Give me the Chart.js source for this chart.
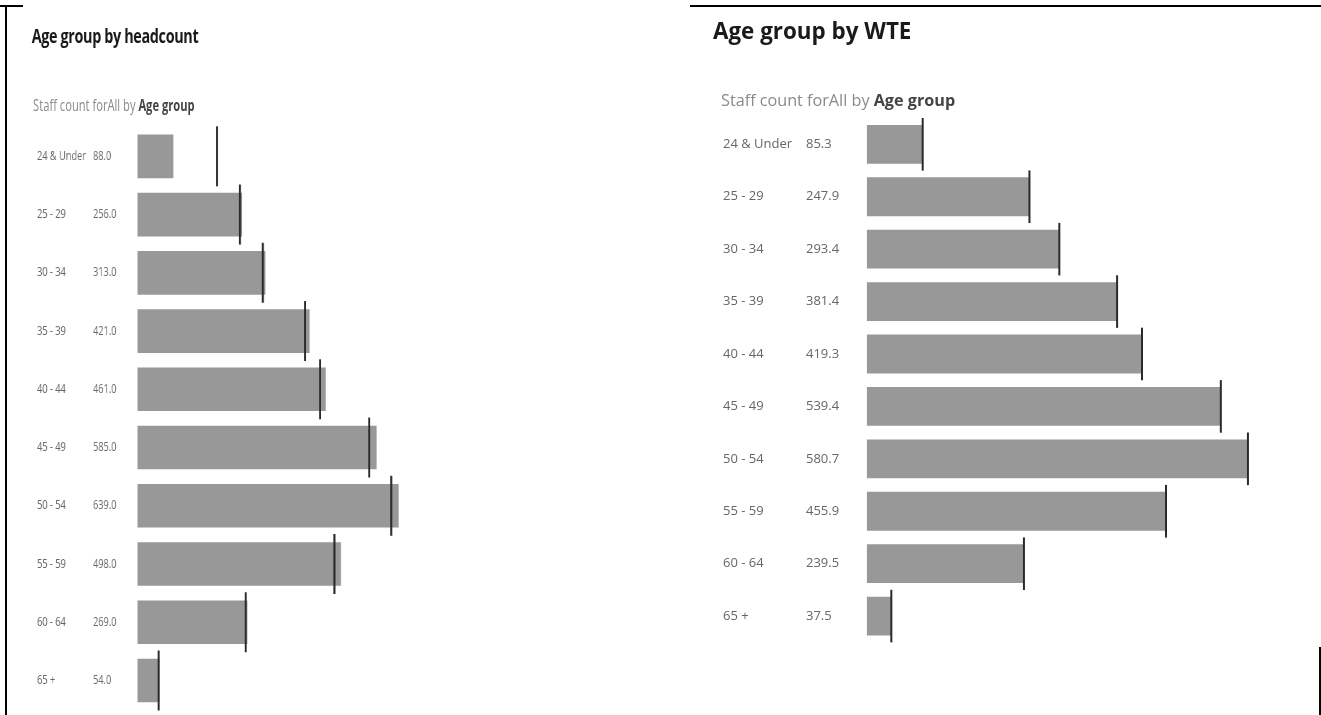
<!DOCTYPE html>
<html>
<head>
<meta charset="utf-8">
<script src="https://cdn.jsdelivr.net/npm/chart.js@4"></script>
<style>
    body { margin: 0; width: 1321px; height: 715px; overflow: hidden; position: relative; background: #fff; font-family: 'Open Sans', sans-serif; }
    .linea { position: absolute; background: #000; }
    /* panel izquierdo: texto y barras mas estrechos */
    #panelIzq { position: absolute; left: 0; top: 0; width: 944px; height: 715px; transform: scaleX(0.72); transform-origin: 0 0; }
    #panelDer { position: absolute; left: 0; top: 0; width: 1321px; height: 715px; }
    .titulo { position: absolute; font-weight: 700; color: #1a1a1a; line-height: 1; white-space: nowrap; }
    .subtitulo { position: absolute; color: #8a8a8a; line-height: 1; white-space: nowrap; }
    .subtitulo b { color: #444; }
    canvas { position: absolute; }
</style>
</head>
<body>
<div class="linea" style="left:0;top:5px;width:23px;height:2px"></div>
<div class="linea" style="left:5px;top:5px;width:2px;height:710px"></div>
<div class="linea" style="left:690px;top:5px;width:631px;height:2px"></div>
<div class="linea" style="left:1319px;top:647px;width:2px;height:68px"></div>

<div id="panelIzq">
    <div class="titulo" style="left:44px;top:26px;font-size:20px;letter-spacing:-0.5px">Age group by headcount</div>
    <div class="subtitulo" style="left:46px;top:98px;font-size:15.5px">Staff count forAll by <b>Age group</b></div>
    <canvas id="headcount" width="600" height="605" style="left:0;top:110px"></canvas>
</div>

<div id="panelDer">
    <div class="titulo" style="left:713px;top:20px;font-size:22.4px">Age group by WTE</div>
    <div class="subtitulo" style="left:721px;top:92px;font-size:16.2px">Staff count forAll by <b>Age group</b></div>
    <canvas id="wte" width="610" height="560" style="left:700px;top:100px"></canvas>
</div>

<script>
const grupos = ['24 & Under', '25 - 29', '30 - 34', '35 - 39', '40 - 44', '45 - 49', '50 - 54', '55 - 59', '60 - 64', '65 +'];
const headcount = [88, 256, 313, 421, 461, 585, 639, 498, 269, 54];
const headcountRef = [195, 251, 307, 410, 447, 567, 621, 482, 265, 52];
const wte = [85.3, 247.9, 293.4, 381.4, 419.3, 539.4, 580.7, 455.9, 239.5, 37.5];

const GRIS = '#989898';
const NEGRO = '#2a2a2a';

// columna con el valor de cada barra, entre la etiqueta y la barra
const columnaValores = {
    id: 'columnaValores',
    afterDraw(chart, args, opts) {
        const c = chart.ctx;
        const y = chart.scales.y;
        const valores = chart.data.datasets[0].data;
        c.save();
        c.font = opts.size + 'px "Open Sans"';
        c.fillStyle = '#666';
        c.textAlign = 'left';
        c.textBaseline = 'middle';
        valores.forEach((v, i) => c.fillText(v.toFixed(1), opts.x, y.getPixelForValue(i)));
        c.restore();
    }
};

function crearGrafica(id, valores, refs, op) {
    const ctx = document.getElementById(id).getContext('2d');
    const config = {
        type: 'bar',
        data: {
            labels: grupos,
            datasets: [
                {
                    data: valores,
                    backgroundColor: GRIS,
                    barPercentage: op.barra,
                    categoryPercentage: 1,
                    order: 2
                },
                {
                    type: 'line',
                    indexAxis: 'y',
                    data: refs,
                    showLine: false,
                    pointStyle: 'line',
                    pointRotation: 90,
                    pointRadius: op.radio,
                    pointBorderWidth: op.grosor,
                    pointBorderColor: NEGRO,
                    clip: false,
                    order: 1
                }
            ]
        },
        options: {
            indexAxis: 'y',
            responsive: false,
            animation: false,
            layout: { padding: op.padding, autoPadding: false },
            scales: {
                x: { display: false, min: 0, max: op.max },
                y: {
                    grid: { display: false },
                    border: { display: false },
                    ticks: {
                        crossAlign: 'far',
                        autoSkip: false,
                        color: '#666',
                        font: { family: 'Open Sans', size: op.fuente }
                    },
                    // ancho fijo del eje y sin relleno extra arriba/abajo
                    afterFit: (s) => {
                        s.width = op.anchoEje;
                        s.paddingTop = 0;
                        s.paddingBottom = 0;
                    }
                }
            },
            plugins: {
                legend: { display: false },
                tooltip: { enabled: false },
                columnaValores: { x: op.xValores, size: op.fuente }
            }
        },
        plugins: [columnaValores]
    };
    return new Chart(ctx, config);
}

crearGrafica('headcount', headcount, headcountRef, {
    max: 700, barra: 0.75, radio: 30, grosor: 2.8, fuente: 12.8,
    padding: { left: 51.4, right: 11.7, top: 17.2, bottom: 5.4 },
    anchoEje: 139.3, xValores: 129.2
});

crearGrafica('wte', wte, wte, {
    max: 660, barra: 0.74, radio: 26.3, grosor: 2, fuente: 13,
    padding: { left: 23, right: 10, top: 18.1, bottom: 17.7 },
    anchoEje: 143.7, xValores: 106
});
</script>
</body>
</html>
